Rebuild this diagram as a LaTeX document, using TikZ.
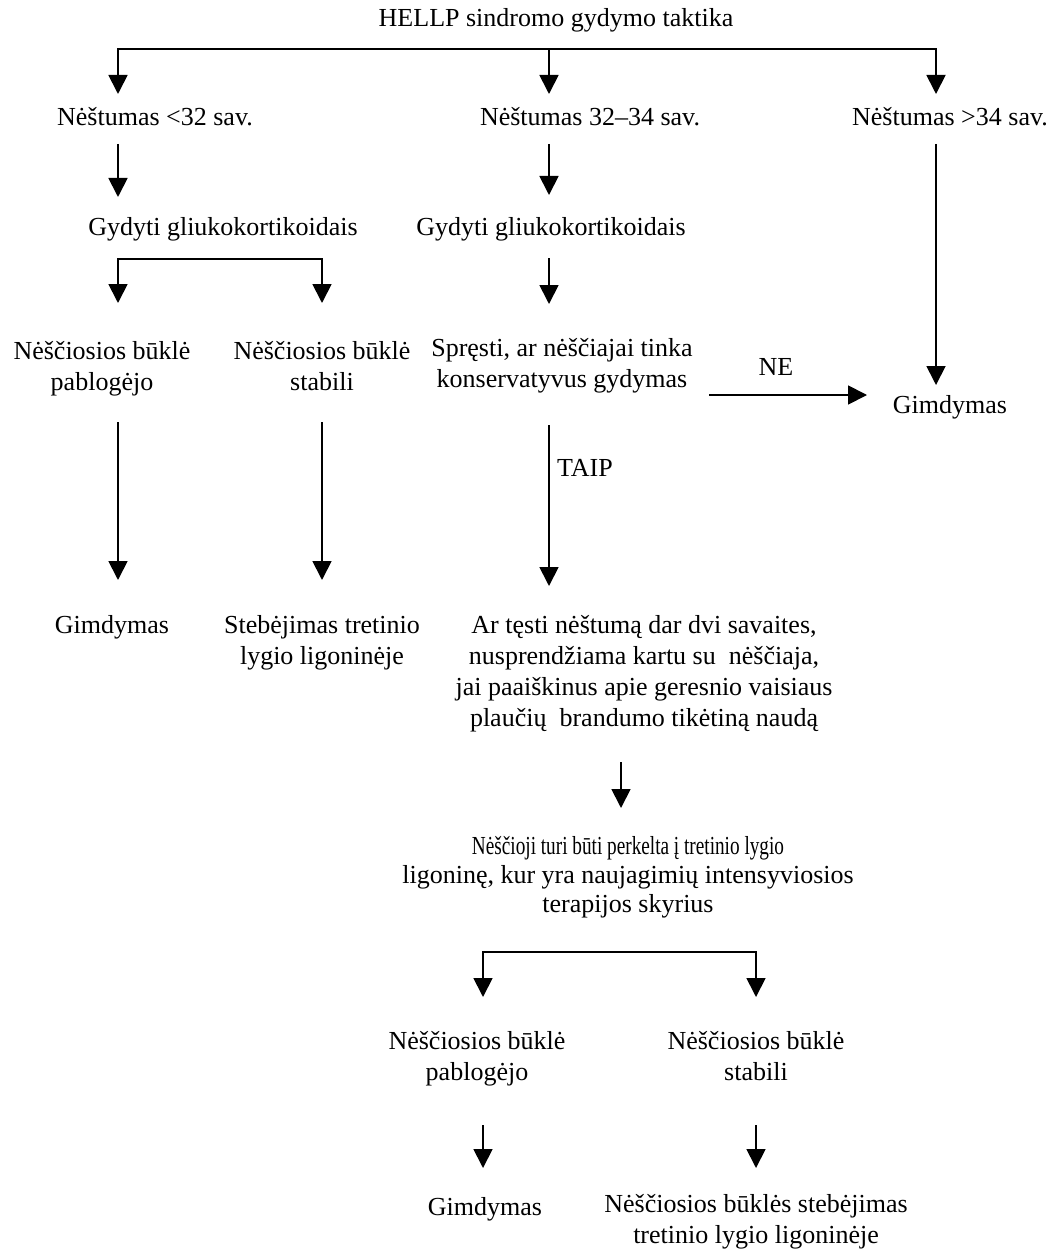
\documentclass[tikz,border=0pt]{standalone}
\usepackage{fontspec}
\setmainfont{Liberation Serif}
\usetikzlibrary{arrows.meta}
\begin{document}
\begin{tikzpicture}[x=1pt,y=-1pt,
  txt/.style={font=\fontsize{26}{31}\selectfont, align=center, inner sep=0pt, anchor=base},
  ln/.style={line width=1.8pt},
  arr/.style={line width=1.8pt, -{Triangle[width=19pt,length=19pt]}}]
\useasboundingbox (0,0) rectangle (1053,1249);
% texts (multi-line nodes are placed at the baseline of their last line)
\node[txt] (title) at (556,27) {HELLP sindromo gydymo taktika};
\node[txt] (p1) at (155,126) {Nėštumas <32 sav.};
\node[txt] (p2) at (590,126) {Nėštumas 32–34 sav.};
\node[txt] (p3) at (950,126) {Nėštumas >34 sav.};
\node[txt] (g1) at (223,236) {Gydyti gliukokortikoidais};
\node[txt] (g2) at (551,236) {Gydyti gliukokortikoidais};
\node[txt] (b1) at (102,390) {Nėščiosios būklė\\pablogėjo};
\node[txt] (s1) at (322,390) {Nėščiosios būklė\\stabili};
\node[txt] (sp) at (562,387) {Spręsti, ar nėščiajai tinka\\konservatyvus gydymas};
\node[txt] (ne) at (776,375) {NE};
\node[txt] (gim1) at (950,413) {Gimdymas};
\node[txt] (taip) at (585,476) {TAIP};
\node[txt] (gim2) at (112,633) {Gimdymas};
\node[txt] (st1) at (322,664) {Stebėjimas tretinio\\lygio ligoninėje};
\node[txt] (ar) at (644,726) {Ar tęsti nėštumą dar dvi savaites,\\nusprendžiama kartu su\ \ nėščiaja,\\jai paaiškinus apie geresnio vaisiaus\\plaučių\ \ brandumo tikėtiną naudą};
\node[txt] (nes) at (628,912) {\scalebox{0.74}[1]{Nėščioji turi būti perkelta į tretinio lygio}\\[-2pt]ligoninę, kur yra naujagimių intensyviosios\\[-2pt]terapijos skyrius};
\node[txt] (b2) at (477,1080) {Nėščiosios būklė\\pablogėjo};
\node[txt] (s2) at (756,1080) {Nėščiosios būklė\\stabili};
\node[txt] (gim3) at (485,1215) {Gimdymas};
\node[txt] (st2) at (756,1243) {Nėščiosios būklės stebėjimas\\tretinio lygio ligoninėje};
% coordinates
\coordinate (tl) at (118,49);
\coordinate (tm) at (549,49);
\coordinate (tr) at (936,49);
\coordinate (a1) at (118,94);
\coordinate (a2) at (549,94);
\coordinate (a0) at (936,94);
\coordinate (a3s) at (118,144);
\coordinate (a3) at (118,197);
\coordinate (a4s) at (549,144);
\coordinate (a4) at (549,195);
\coordinate (a5s) at (936,144);
\coordinate (a5) at (936,385);
\coordinate (lbl) at (118,259);
\coordinate (lbr) at (322,259);
\coordinate (lbm) at (220,259);
\coordinate (a6) at (118,303);
\coordinate (a7) at (322,303);
\coordinate (a8s) at (549,258);
\coordinate (a8) at (549,304);
\coordinate (nes1) at (709,395);
\coordinate (nee) at (867,395);
\coordinate (a9s) at (118,422);
\coordinate (a9) at (118,580);
\coordinate (a10s) at (322,422);
\coordinate (a10) at (322,580);
\coordinate (a11s) at (549,425);
\coordinate (a11) at (549,586);
\coordinate (a12s) at (621,762);
\coordinate (a12) at (621,808);
\coordinate (bl) at (483,952);
\coordinate (br) at (756,952);
\coordinate (bm) at (620,952);
\coordinate (a13) at (483,997);
\coordinate (a14) at (756,997);
\coordinate (a15s) at (483,1125);
\coordinate (a15) at (483,1168);
\coordinate (a16s) at (756,1125);
\coordinate (a16) at (756,1168);
% connectors
\draw[arr] (tm) -- (tl) -- (a1);
\draw[arr] (tm) -- (tr) -- (a0);
\draw[arr] (tm) -- (a2);
\draw[arr] (a3s) -- (a3);
\draw[arr] (a4s) -- (a4);
\draw[arr] (a5s) -- (a5);
\draw[arr] (lbm) -- (lbl) -- (a6);
\draw[arr] (lbm) -- (lbr) -- (a7);
\draw[arr] (a8s) -- (a8);
\draw[arr] (nes1) -- (nee);
\draw[arr] (a9s) -- (a9);
\draw[arr] (a10s) -- (a10);
\draw[arr] (a11s) -- (a11);
\draw[arr] (a12s) -- (a12);
\draw[arr] (bm) -- (bl) -- (a13);
\draw[arr] (bm) -- (br) -- (a14);
\draw[arr] (a15s) -- (a15);
\draw[arr] (a16s) -- (a16);
\end{tikzpicture}
\end{document}
